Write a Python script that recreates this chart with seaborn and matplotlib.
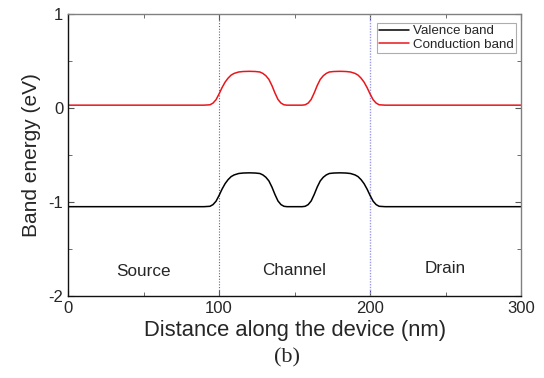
import matplotlib
matplotlib.use("Agg")
import matplotlib.pyplot as plt
import seaborn as sns
import pandas as pd
from matplotlib.ticker import MultipleLocator

# ---- data ----
distance_nm = [0, 50, 90, 94, 96, 98, 100, 102, 104, 106, 108, 110, 113, 116, 120,
               124, 127, 129, 131, 133, 135, 137, 139, 141, 143, 145, 150, 155, 157,
               159, 161, 163, 165, 167, 169, 171, 173, 176, 180, 184, 187, 190, 192,
               194, 196, 198, 200, 202, 204, 206, 210, 250, 300]
conduction_band = [0.03, 0.03, 0.03, 0.034, 0.052, 0.088, 0.149, 0.217, 0.275, 0.318,
                   0.350, 0.368, 0.383, 0.388, 0.39, 0.388, 0.383, 0.368, 0.343, 0.304,
                   0.239, 0.160, 0.091, 0.052, 0.034, 0.03, 0.03, 0.03, 0.034, 0.052,
                   0.091, 0.160, 0.239, 0.304, 0.343, 0.368, 0.383, 0.388, 0.39, 0.388,
                   0.383, 0.368, 0.350, 0.318, 0.275, 0.217, 0.149, 0.088, 0.052, 0.034,
                   0.03, 0.03, 0.03]
valence_band = [-1.05, -1.05, -1.05, -1.046, -1.028, -0.992, -0.931, -0.863, -0.805,
                -0.762, -0.730, -0.712, -0.697, -0.692, -0.69, -0.692, -0.697, -0.712,
                -0.737, -0.776, -0.841, -0.920, -0.989, -1.028, -1.046, -1.05, -1.05,
                -1.05, -1.046, -1.028, -0.989, -0.920, -0.841, -0.776, -0.737, -0.712,
                -0.697, -0.692, -0.69, -0.692, -0.697, -0.712, -0.730, -0.762, -0.805,
                -0.863, -0.931, -0.992, -1.028, -1.046, -1.05, -1.05, -1.05]
series_names = ["Valence band", "Conduction band"]
series_colors = ["#000000", "#e8161b"]
region_labels = ["Source", "Channel", "Drain"]
region_x = [50, 150, 250]
region_y = [-1.74, -1.73, -1.71]
boundaries = [100, 200]
x_ticks = [0, 100, 200, 300]
y_ticks = [-2, -1, 0, 1]

df = pd.concat([
    pd.DataFrame({"x": distance_nm, "E": valence_band, "band": series_names[0]}),
    pd.DataFrame({"x": distance_nm, "E": conduction_band, "band": series_names[1]}),
])

sns.set_style("ticks")
plt.rcParams["font.family"] = ["Liberation Sans", "DejaVu Sans"]

fig = plt.figure(figsize=(5.44, 3.78), dpi=100)
ax = fig.add_axes([0.125, 0.217, 0.833, 0.746])

ax.axvline(boundaries[0], color="#5a5ad0", linestyle=(0, (1, 1.5)), lw=0.8, zorder=1)
ax.axvline(boundaries[1], color="#9a9ae6", linestyle=(0, (1, 1)), lw=1.0, zorder=1)

sns.lineplot(data=df, x="x", y="E", hue="band", hue_order=series_names,
             palette=dict(zip(series_names, series_colors)), lw=1.1, ax=ax,
             sort=False, estimator=None)

ax.set_xlim(0, 300)
ax.set_ylim(-2, 1)
ax.set_xticks(x_ticks)
ax.set_yticks(y_ticks)
ax.set_yticklabels([str(v) for v in y_ticks])
ax.xaxis.set_minor_locator(MultipleLocator(50))
ax.yaxis.set_minor_locator(MultipleLocator(0.5))
ax.tick_params(which="both", direction="in", top=True, right=True, labelsize=12,
               color="#555555")
ax.tick_params(which="major", length=4)
ax.tick_params(which="minor", length=3)
for s in ["left", "bottom"]:
    ax.spines[s].set_color("#111111")
for s in ["top", "right"]:
    ax.spines[s].set_color("#808080")
for s in ax.spines.values():
    s.set_linewidth(1.0)

ax.set_xlabel("Distance along the device (nm)", fontsize=15.8, labelpad=3)
ax.set_ylabel("Band energy (eV)", fontsize=15, labelpad=5)

for t, xx, yy in zip(region_labels, region_x, region_y):
    ax.text(xx, yy, t, ha="center", va="center", fontsize=12.3)

leg = ax.legend(loc="upper right", fontsize=9.6, frameon=True, fancybox=False,
                handlelength=2.25, borderpad=0.15, labelspacing=0.1,
                handletextpad=0.3, borderaxespad=0.0,
                bbox_to_anchor=(0.989, 0.968))
leg.get_frame().set_edgecolor("#999999")
leg.get_frame().set_linewidth(0.8)
leg.set_title(None)

fig.text(0.528, 0.052, "(b)", ha="center", va="center", fontsize=16,
         family=["Liberation Serif", "DejaVu Serif"])

fig.savefig("out.png", dpi=100)
